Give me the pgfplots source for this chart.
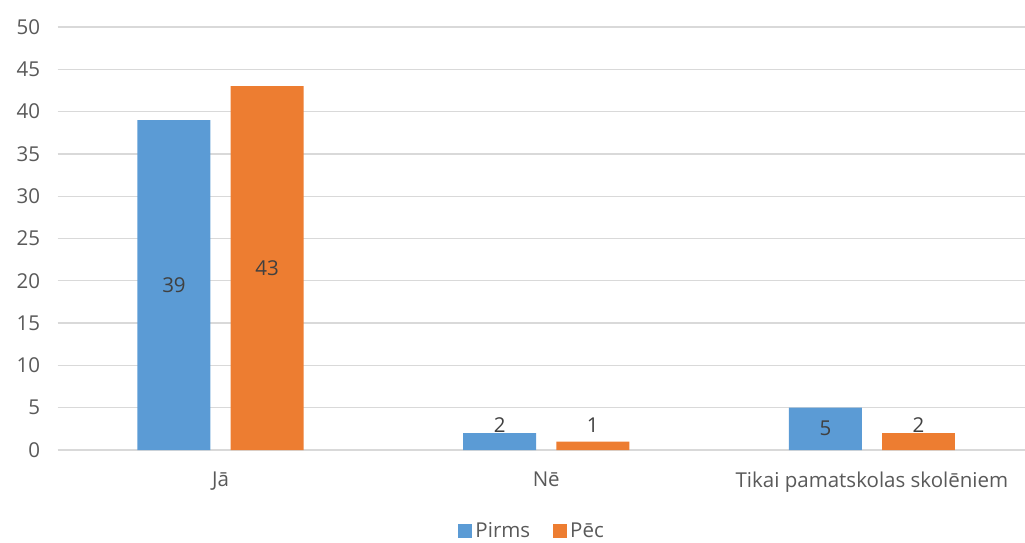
\documentclass[border=0pt]{standalone}
\usepackage{pgfplots}
\pgfplotsset{compat=1.18}
\usepackage{fontspec}
\setmainfont{Open Sans}
\definecolor{cblue}{HTML}{5B9BD5}
\definecolor{corange}{HTML}{ED7D31}
\definecolor{ctext}{HTML}{595959}
\definecolor{clabel}{HTML}{404040}
\definecolor{cgrid}{HTML}{D9D9D9}
\newcommand{\tfont}{\fontsize{20.5bp}{24bp}\selectfont}
\begin{document}
\begin{tikzpicture}
\begin{axis}[name=ax, scale only axis, width=967.3bp, height=423bp,
 xmin=-0.5, xmax=2.47, ymin=0, ymax=50, ytick={0,5,...,50},
 xtick={0,1,2}, xticklabels={Jā, Nē, Tikai pamatskolas skolēniem},
 axis line style={draw=none}, major tick length=0pt,
 ymajorgrids, grid style={cgrid, line width=1.3bp},
 tick label style={font=\tfont, text=ctext},
 /pgf/number format/assume math mode=true,
 yticklabel style={xshift=-14bp},
 xticklabel style={yshift=-18bp},
 clip=false,
 legend style={at={(0.491,0)}, yshift=-81bp, anchor=center, draw=none, fill=none, legend columns=-1, font=\tfont, text=ctext, inner sep=1bp,
   /tikz/every even column/.append style={column sep=20bp},
   nodes={inner xsep=3bp}},
 legend image code/.code={\fill[#1] (0bp,-7bp) rectangle (14bp,7bp);},
]
\addplot[ybar, bar width=0.224, bar shift=-0.143, fill=cblue, draw=none] coordinates {(0,39) (1,2) (2,5)};
\addplot[ybar, bar width=0.224, bar shift=0.143, fill=corange, draw=none] coordinates {(0,43) (1,1) (2,2)};
\legend{Pirms, Pēc}
\addplot[draw=none, mark=none, nodes near coords, point meta=explicit symbolic, nodes near coords style={anchor=center, font=\tfont, text=clabel}] table[meta=l] {
x y l
-0.143 19.5 39
0.143 21.5 43
0.857 2.9 2
1.143 2.9 1
1.857 2.6 5
2.143 2.9 2
};
\end{axis}
\pgfresetboundingbox
\path[use as bounding box] ([xshift=-57.7bp,yshift=-93bp]ax.south west) rectangle ++(1025bp,543bp);
\end{tikzpicture}
\end{document}
